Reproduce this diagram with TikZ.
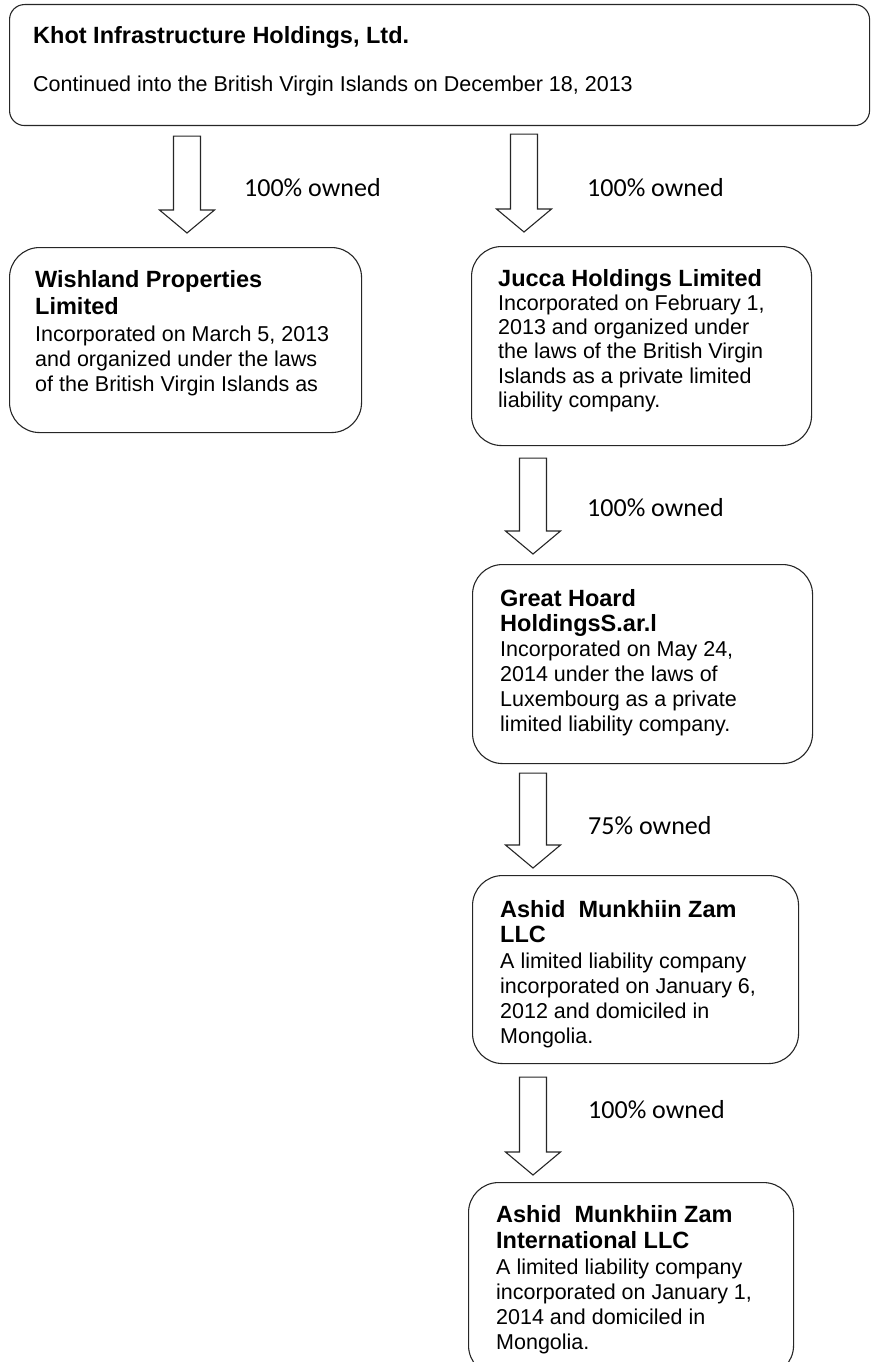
\documentclass[tikz,border=0pt]{standalone}
\usepackage{fontspec}
\setmainfont{Liberation Sans}
\newfontfamily\ownfont{Carlito}
\usetikzlibrary{calc}

\tikzset{
  entity/.style={draw=black!85, line width=1.1pt, rounded corners=30pt,
    inner sep=0pt, anchor=north west},
  info/.style={inner sep=0pt, anchor=north west, align=left,
    font=\fontsize{21.5}{25}\selectfont},
  share/.style={inner sep=0pt, anchor=west, font=\ownfont\fontsize{26}{30}\selectfont},
  owned/.style={draw=black!85, line width=1.1pt, fill=white},
}
\newcommand\ttl[1]{{\fontsize{23.5}{27}\selectfont\bfseries #1}}
% hollow ownership arrow from a top point down to a tip point
\newcommand\ownarrow[2]{%
  \draw[owned] let \p1=(#1), \p2=(#2) in
    (\x1-13.5pt,\y1) -- (\x1+13.5pt,\y1) -- (\x1+13.5pt,\y2+23pt) -- (\x1+27.5pt,\y2+23pt)
    -- (\x1,\y2) -- (\x1-27.5pt,\y2+23pt) -- (\x1-13.5pt,\y2+23pt) -- cycle;}

\begin{document}
\begin{tikzpicture}[x=1pt,y=-1pt]
  \useasboundingbox (0,0) rectangle (870,1362);
  % parent
  \node[entity, rounded corners=15pt, minimum width=860pt, minimum height=121pt] (khot) at (9,4) {};
  \node[anchor=base west, inner sep=0pt, font=\fontsize{23.5}{27}\selectfont\bfseries] (khottitle) at (33,43.5)
    {Khot Infrastructure Holdings, Ltd.};
  \node[anchor=base west, inner sep=0pt, font=\fontsize{21.5}{25}\selectfont] (khotnote) at (33,91.7)
    {Continued into the British Virgin Islands on December 18, 2013};
  % subsidiaries
  \node[entity, minimum width=352pt, minimum height=185pt] (wish) at (9,247) {};
  \node[entity, minimum width=340pt, minimum height=199pt] (jucca) at (471,246) {};
  \node[entity, minimum width=340pt, minimum height=199pt] (hoard) at (472,564) {};
  \node[entity, minimum width=326pt, minimum height=188pt] (ashid) at (472,875) {};
  \node[entity, minimum width=325pt, minimum height=193pt] (intl) at (468,1182) {};
  % box texts
  \node[info] (wishtext) at (35,270)
    {\ttl{Wishland Properties}\\[2pt] \ttl{Limited}\\[2pt]
     Incorporated on March 5, 2013\\ and organized under the laws\\ of the British Virgin Islands as};
  \node[info, font=\fontsize{21.5}{24.2}\selectfont] (juccatext) at (498,269)
    {\ttl{Jucca Holdings Limited}\\
     Incorporated on February 1,\\ 2013 and organized under\\ the laws of the British Virgin\\
     Islands as a private limited\\ liability company.};
  \node[info] (hoardtext) at (500,589)
    {\ttl{Great Hoard}\\ \ttl{HoldingsS.ar.l}\\
     Incorporated on May 24,\\ 2014 under the laws of\\ Luxembourg as a private\\
     limited liability company.};
  \node[info] (ashidtext) at (500,900)
    {\ttl{Ashid~ Munkhiin Zam}\\ \ttl{LLC}\\[1pt]
     A limited liability company\\ incorporated on January 6,\\ 2012 and domiciled in\\ Mongolia.};
  \node[info] (intltext) at (496,1205)
    {\ttl{Ashid~ Munkhiin Zam}\\[1pt] \ttl{International LLC}\\[1pt]
     A limited liability company\\ incorporated on January 1,\\ 2014 and domiciled in\\ Mongolia.};
  % ownership arrows
  \ownarrow{$(khot.south west)+(178,10)$}{$(wish.north)+(0,-14)$}
  \ownarrow{$(khot.south west)+(515,8)$}{$(jucca.north)+(0,-14)$}
  \ownarrow{$(jucca.south west)+(62,12)$}{$(hoard.north)+(0,-10)$}
  \ownarrow{$(hoard.south west)+(61,9)$}{$(ashid.north)+(0,-7)$}
  \ownarrow{$(ashid.south west)+(61,13)$}{$(intl.north)+(0,-7)$}
  % labels
  \node[share] (ownwish) at (244,188) {100\% owned};
  \node[share] (ownjucca) at (587,188) {100\% owned};
  \node[share] (ownhoard) at (587,508) {100\% owned};
  \node[share] (ownashid) at (588,826) {75\% owned};
  \node[share] (ownintl) at (588,1110) {100\% owned};
\end{tikzpicture}
\end{document}
